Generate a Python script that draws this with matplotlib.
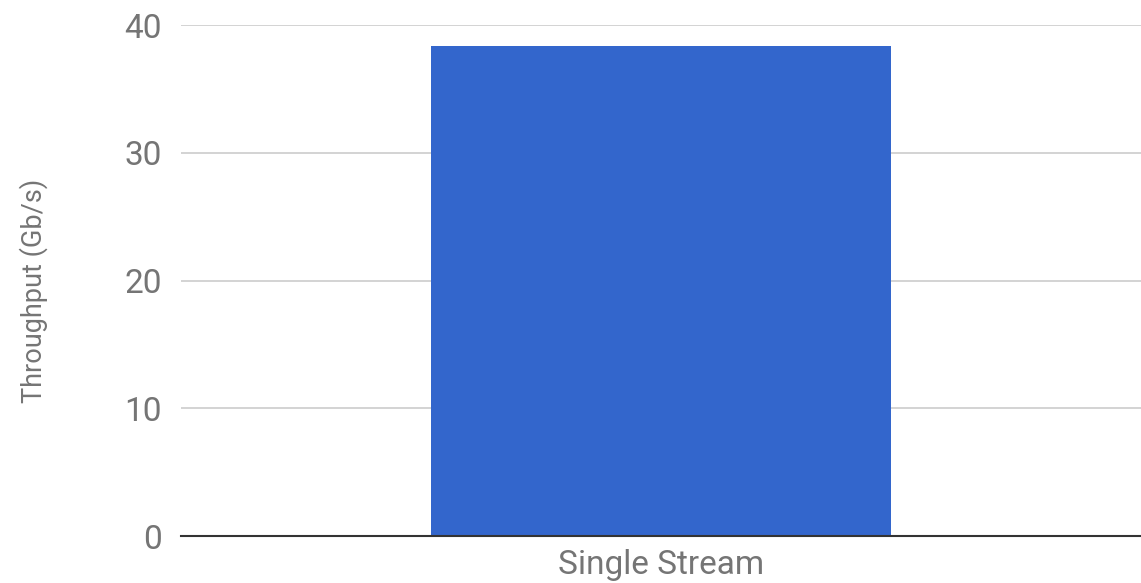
import matplotlib
matplotlib.use("Agg")
import matplotlib.pyplot as plt

categories = ["Single Stream"]
throughput = [38.4]
y_ticks = [0, 10, 20, 30, 40]

plt.rcParams["font.family"] = ["Roboto", "DejaVu Sans"]

fig = plt.figure(figsize=(11.41, 5.83), dpi=100)
ax = fig.add_axes([0.1586, 0.0806, 0.8414, 0.8764])

ax.bar(range(len(categories)), throughput, width=0.48, color="#3366cc", zorder=3)

ax.set_xlim(-0.5, len(categories) - 0.5)
ax.set_ylim(0, 40)
ax.set_yticks(y_ticks)
ax.set_yticklabels([str(t) for t in y_ticks])
ax.set_xticks(range(len(categories)))
ax.set_xticklabels(categories)

ax.grid(axis="y", color="#cccccc", linewidth=1.2, zorder=0)
for s in ["top", "right", "left"]:
    ax.spines[s].set_visible(False)
ax.spines["bottom"].set_color("#333333")
ax.spines["bottom"].set_linewidth(1.5)
ax.spines["bottom"].set_zorder(4)

ax.tick_params(axis="y", length=0, pad=14, labelsize=24, labelcolor="#757575")
ax.tick_params(axis="x", length=0, pad=9, labelsize=24, labelcolor="#757575")

ax.set_ylabel("Throughput (Gb/s)", fontsize=19.5, color="#757575", labelpad=55)
ax.yaxis.label.set_y(0.48)

fig.savefig("out.png", dpi=100)
